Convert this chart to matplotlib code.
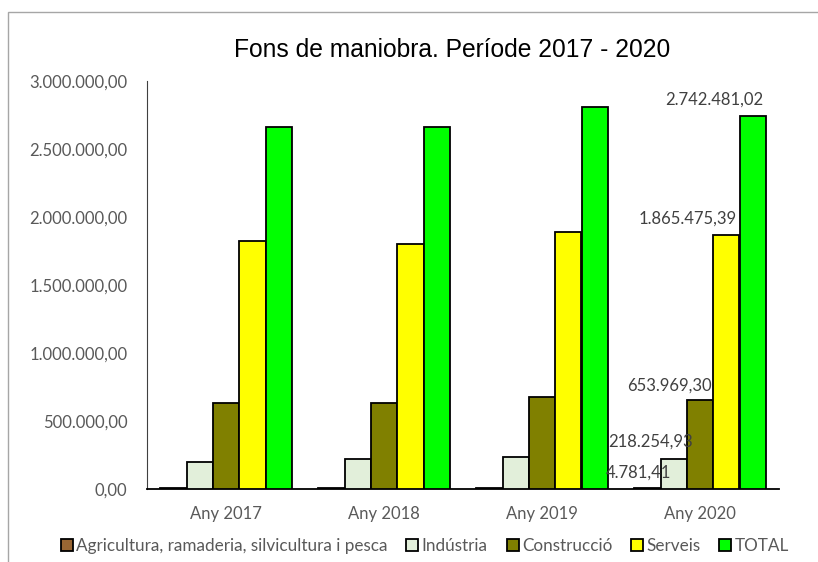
import numpy as np
import matplotlib.pyplot as plt
from matplotlib.patches import Rectangle

# Data
years = ["Any 2017", "Any 2018", "Any 2019", "Any 2020"]
series_names = ["Agricultura, ramaderia, silvicultura i pesca", "Indústria",
                "Construcció", "Serveis", "TOTAL"]
agricultura = [4600, 4600, 4700, 4781.41]
industria = [199000, 219000, 238000, 218254.93]
construccio = [633000, 633000, 676000, 653969.30]
serveis = [1822000, 1805000, 1893000, 1865475.39]
total = [2658600, 2661600, 2811700, 2742481.02]
colors = ["#996633", "#E2EFDA", "#808000", "#FFFF00", "#00FF00"]

# labels shown only on the 2020 group, offset (pixels) as in the reference
label_offsets = [(-9, 8), (-23, 10), (-31, 6), (-39, 9), (-38, 8)]


def fmt(v):
    s = f"{v:,.2f}"
    return s.replace(",", "X").replace(".", ",").replace("X", ".")


gray = "#595959"
plt.rcParams["font.family"] = ["Lato", "DejaVu Sans"]

fig = plt.figure(figsize=(8.18, 5.62), dpi=100)
ax = fig.add_axes([147 / 818, 1 - 489 / 562, 632 / 818, 408 / 562])

# chart border (runs off the right and bottom of the picture)
fig.patches.append(Rectangle((8 / 818, -0.05), 1.2, 1 - 12 / 562 + 0.05,
                             transform=fig.transFigure, fill=False,
                             edgecolor="#A6A6A6", linewidth=1.0))

x = np.arange(len(years))
w = 1 / 6
all_series = [agricultura, industria, construccio, serveis, total]
for i, (vals, name, col) in enumerate(zip(all_series, series_names, colors)):
    bars = ax.bar(x + (i - 2) * w, vals, w, color=col, edgecolor="black",
                  linewidth=1.3, label=name, zorder=3)
    last = bars[-1]
    dx, dy = label_offsets[i]
    ax.annotate(fmt(vals[-1]), (last.get_x() + w / 2, last.get_height()),
                xytext=(dx, dy), textcoords="offset pixels",
                ha="center", va="bottom", fontsize=12, color="#404040", zorder=4)

ax.set_xlim(-0.5, 3.5)
ax.set_ylim(0, 3000000)
ax.set_yticks(np.arange(0, 3000001, 500000))
ax.set_yticklabels([fmt(v) for v in np.arange(0, 3000001, 500000)])
ax.set_xticks(x)
ax.set_xticklabels(years)
ax.tick_params(axis="both", length=0, labelsize=12, labelcolor=gray)
ax.tick_params(axis="y", pad=14)
ax.tick_params(axis="x", pad=12)

for s in ["top", "right"]:
    ax.spines[s].set_visible(False)
ax.spines["left"].set_color("#404040")
ax.spines["bottom"].set_color("black")
ax.spines["bottom"].set_linewidth(1.3)

fig.text(452 / 818, 1 - 50 / 562, "Fons de maniobra. Període 2017 - 2020",
         ha="center", va="center", fontsize=17.7, family="Liberation Sans",
         color="black")

leg = fig.legend(loc="center", bbox_to_anchor=(425 / 818, 1 - 546 / 562),
                 ncol=5, frameon=False, fontsize=12.3, handlelength=0.7,
                 handleheight=0.7, handletextpad=0.2, columnspacing=1.1,
                 labelcolor=gray)

fig.savefig("out.png", dpi=100)
